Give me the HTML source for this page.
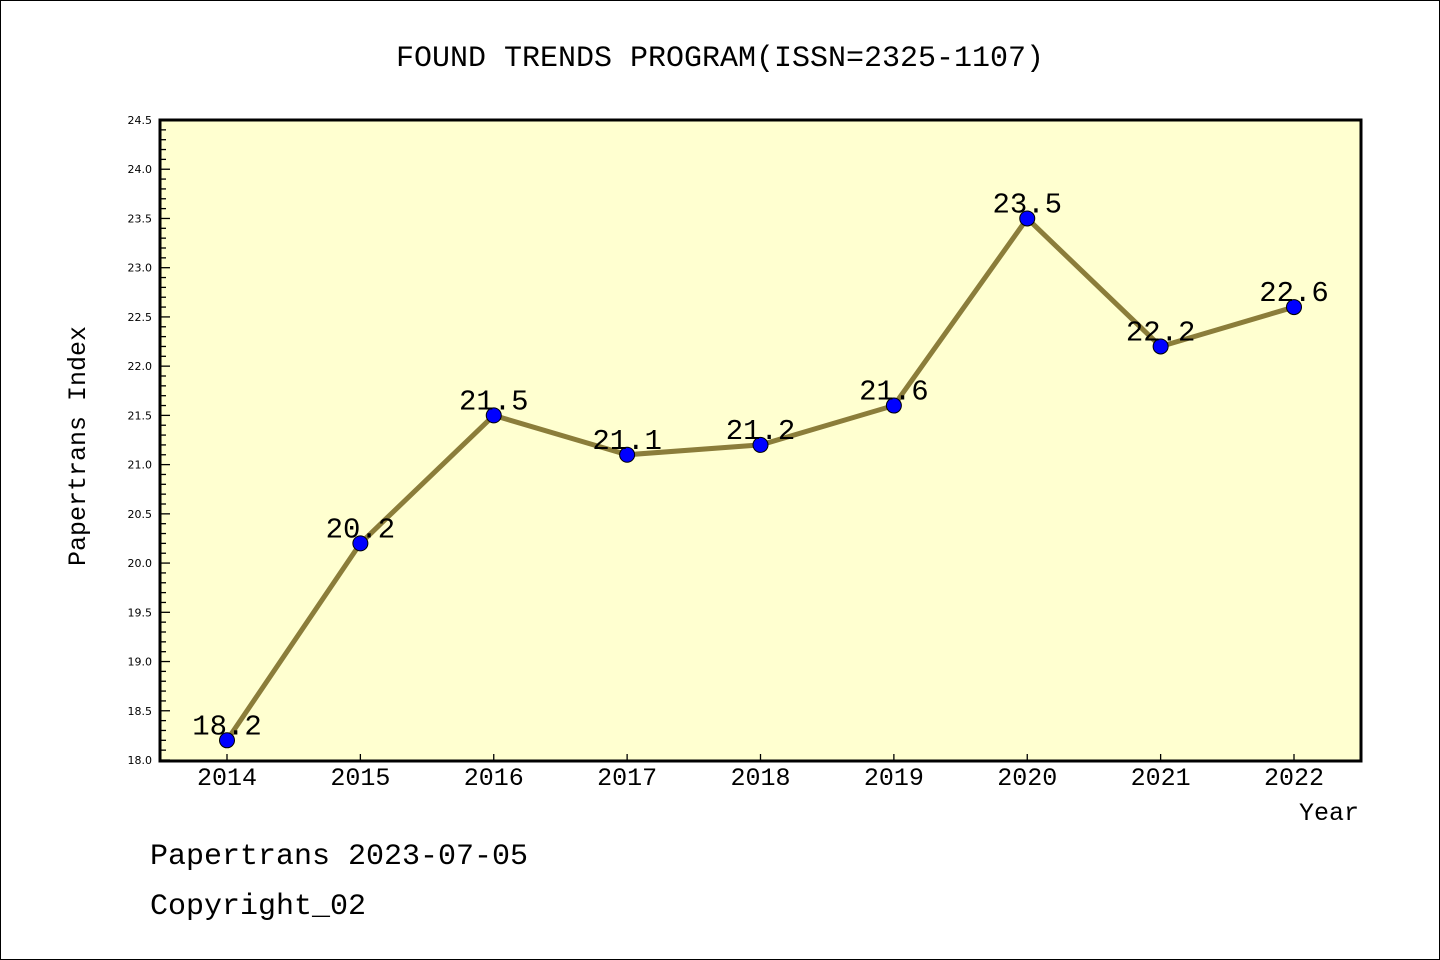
<!DOCTYPE html>
<html><head><meta charset="utf-8"><style>
html,body{margin:0;padding:0;background:#fff}
svg{display:block}
text{font-family:"WenQuanYi Zen Hei","Liberation Mono",monospace}
</style></head><body>
<svg id="chart" width="1440" height="960" xmlns="http://www.w3.org/2000/svg">
<rect x="0.5" y="0.5" width="1439" height="959" fill="#fff" stroke="#000" stroke-width="1"/>
<text x="720" y="66" font-size="30" text-anchor="middle">FOUND TRENDS PROGRAM(ISSN=2325-1107)</text>
<rect x="160" y="120" width="1201" height="641" fill="#ffffd0"/>
<g id="yaxis"></g>
<g id="xaxis"></g>
<g id="series"></g>
<rect x="160" y="120" width="1201" height="641" fill="none" stroke="#000" stroke-width="3"/>
<text transform="translate(85,446) rotate(-90)" font-size="25" text-anchor="middle">Papertrans Index</text>
<text x="1359" y="820" font-size="25" text-anchor="end">Year</text>
<text x="150" y="864" font-size="30">Papertrans 2023-07-05</text>
<text x="150" y="914" font-size="30">Copyright_02</text>
</svg>
<script>
const categories = ["2014","2015","2016","2017","2018","2019","2020","2021","2022"];
const values = [18.2,20.2,21.5,21.1,21.2,21.6,23.5,22.2,22.6];
const yTicks = ["18.0","18.5","19.0","19.5","20.0","20.5","21.0","21.5","22.0","22.5","23.0","23.5","24.0","24.5"];
const yMin=18, yMax=24.5, plotTop=120, plotBottom=760, plotLeft=160;
const NS="http://www.w3.org/2000/svg";
function yScale(v){return plotBottom-(v-yMin)/(yMax-yMin)*(plotBottom-plotTop);}
function xScale(i){return 227+i*133.375;}
function mk(tag,attrs,parent,txt){const e=document.createElementNS(NS,tag);for(const k in attrs)e.setAttribute(k,attrs[k]);if(txt!==undefined)e.textContent=txt;parent.appendChild(e);return e;}
const ya=document.getElementById('yaxis'), xa=document.getElementById('xaxis'), sg=document.getElementById('series');
for(let k=0;k<=65;k++){
  const v=yMin+k*0.1, yy=yScale(v), major=(k%5===0);
  const t=mk('line',{x1:plotLeft,x2:plotLeft+(major?10:6),y1:yy,y2:yy,stroke:'#000','stroke-width':1.3},ya);
  
  
}
yTicks.forEach(s=>{
  const t=mk('text',{x:152,y:yScale(parseFloat(s))+4,'font-size':11,'text-anchor':'end',fill:'#000'},ya,s);
  t.style.fontFamily='"DejaVu Sans",sans-serif';
  
  
});
categories.forEach((c,i)=>{
  const l=mk('line',{x1:xScale(i),x2:xScale(i),y1:plotBottom,y2:plotBottom-6,stroke:'#000','stroke-width':1.3},xa);
  
  
  const t=mk('text',{x:xScale(i),y:785,'font-size':25,'text-anchor':'middle'},xa,c);
  
  
});
const pts=values.map((v,i)=>xScale(i)+','+yScale(v)).join(' ');
const pl=mk('polyline',{points:pts,fill:'none',stroke:'#8b7d3a','stroke-width':5,'stroke-linejoin':'round'},sg);


values.forEach((v,i)=>{
  const c=mk('circle',{cx:xScale(i),cy:yScale(v),r:7.5,fill:'#0000ff',stroke:'#000','stroke-width':1},sg);
  
  
});
values.forEach((v,i)=>{
  const t=mk('text',{x:xScale(i),y:yScale(v)-6,'font-size':29,'text-anchor':'middle'},sg,v.toFixed(1));
  
  
});
</script>
</body></html>
